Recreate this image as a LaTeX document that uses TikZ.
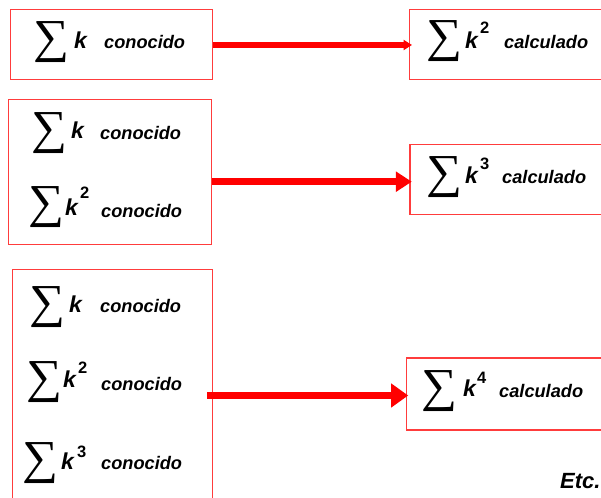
\documentclass[tikz,border=0pt]{standalone}
\usepackage{fontspec}
\setmainfont{Liberation Sans}
\newfontfamily\sumfont{Liberation Serif}
\usepackage{graphicx}
\usetikzlibrary{arrows.meta}
\definecolor{boxred}{RGB}{255,60,60}
\begin{document}
\begin{tikzpicture}[x=1pt,y=-1pt,
  boxst/.style={draw=boxred,line width=1.2pt,fill=none,inner sep=0pt,anchor=north west},
  sumst/.style={inner sep=0pt,anchor=center},
  kst/.style={inner sep=0pt,anchor=base west,font=\bfseries\itshape\fontsize{23}{25}\selectfont},
  supst/.style={inner sep=0pt,anchor=base west,xshift=-2pt,font=\bfseries\fontsize{16.5}{18}\selectfont},
  wordst/.style={inner sep=0pt,anchor=base west,font=\bfseries\itshape\fontsize{18.2}{20}\selectfont},
  etcst/.style={inner sep=0pt,anchor=base west,font=\bfseries\itshape\fontsize{22}{24}\selectfont},
  arr/.style={draw=red,line width=6.5pt},
]
\useasboundingbox (0,0) rectangle (601,497);
\clip (0,0) rectangle (601,497);
\fill[white] (0,0) rectangle (601,497);
\newcommand{\bigsum}{\resizebox*{36pt}{41pt}{\sumfont ∑}}
% boxes
\node[boxst,minimum width=202pt,minimum height=70.3pt] (b1) at (10,8.7) {};
\node[boxst,minimum width=200pt,minimum height=70pt] (b2) at (409,9) {};
\node[boxst,minimum width=203pt,minimum height=145pt] (b3) at (8,99) {};
\node[boxst,minimum width=200pt,minimum height=70pt] (b4) at (409.3,144) {};
\node[boxst,minimum width=200.3pt,minimum height=245pt] (b5) at (11.7,269) {};
\node[boxst,minimum width=205pt,minimum height=72pt] (b6) at (405.7,357.3) {};
% arrows
\coordinate (a1) at (0,45);
\coordinate (a2) at (0,181.7);
\coordinate (a3s) at (207,395.5);
\draw[arr,-{Triangle[length=8.5pt,width=10pt]}] (b1.east |- a1) -- ([xshift=3pt]b2.west |- a1);
\draw[arr,-{Triangle[length=16pt,width=19.5pt]}] (b3.east |- a2) -- ([xshift=2.5pt]b4.west |- a2);
\draw[arr,-{Triangle[length=17pt,width=23pt]}] (a3s) -- ([xshift=2.5pt]b6.west |- a3s);
% row 1 (box 1)
\node[sumst] (s1) at (51,41.7) {\bigsum};
\node[kst] (k1) at (74,48.3) {k};
\node[wordst] (w1) at (104,48.3) {conocido};
% row 2 (box 2)
\node[sumst] (s2) at (444.5,41.2) {\bigsum};
\node[kst] (k2) at (465,48.3) {k};
\node[supst] (p2) at (482,33.3) {2};
\node[wordst] (w2) at (504,48.3) {calculado};
% box 3
\node[sumst] (s3) at (49.5,132.7) {\bigsum};
\node[kst] (k3) at (71,138.3) {k};
\node[wordst] (w3) at (100,139.3) {conocido};
\node[sumst] (s4) at (46.5,207) {\bigsum};
\node[kst] (k4) at (65,215) {k};
\node[supst] (p4) at (82,198.3) {2};
\node[wordst] (w4) at (101,217.3) {conocido};
% box 4
\node[sumst] (s5) at (444.5,176.7) {\bigsum};
\node[kst] (k5) at (465,183.3) {k};
\node[supst] (p5) at (482,169.3) {3};
\node[wordst] (w5) at (502,183.3) {calculado};
% box 5
\node[sumst] (s6) at (47.5,306.7) {\bigsum};
\node[kst] (k6) at (69,312.7) {k};
\node[wordst] (w6) at (100,312.7) {conocido};
\node[sumst] (s7) at (44,381.7) {\bigsum};
\node[kst] (k7) at (63,387.3) {k};
\node[supst] (p7) at (80,373.3) {2};
\node[wordst] (w7) at (101,390) {conocido};
\node[sumst] (s8) at (40.5,462.8) {\bigsum};
\node[kst] (k8) at (61,469.3) {k};
\node[supst] (p8) at (79,457.3) {3};
\node[wordst] (w8) at (101,469.3) {conocido};
% box 6
\node[sumst] (s9) at (439.5,390.8) {\bigsum};
\node[kst] (k9) at (463,396.7) {k};
\node[supst] (p9) at (479,383) {4};
\node[wordst] (w9) at (499,397.3) {calculado};
% Etc.
\node[etcst] (etc) at (560,488) {Etc.};
\end{tikzpicture}
\end{document}
